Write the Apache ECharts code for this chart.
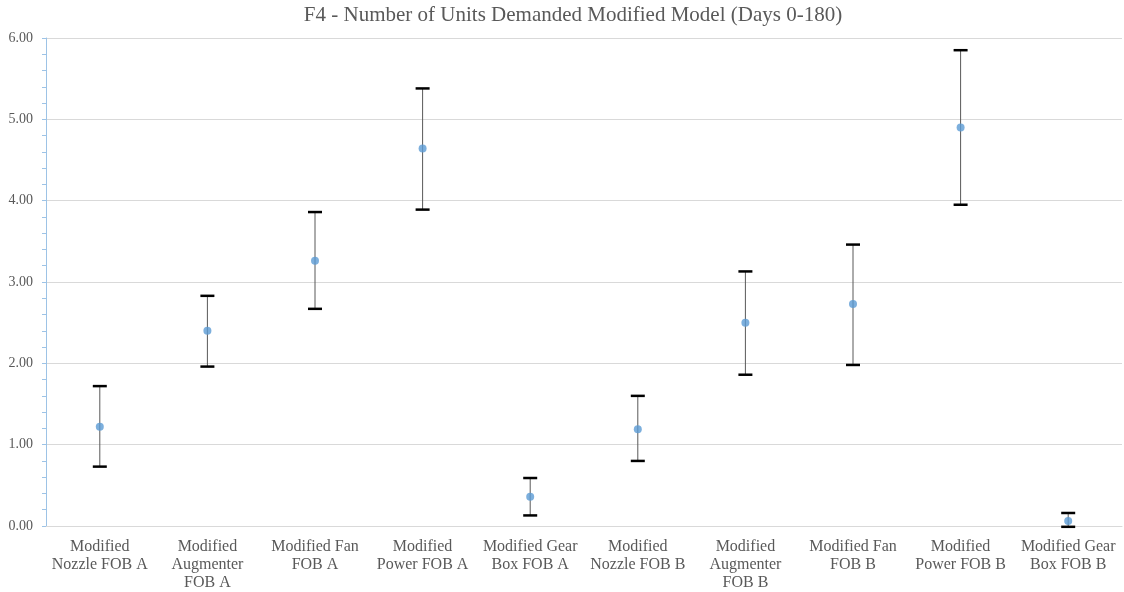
<!DOCTYPE html>
<html>
<head>
<meta charset="utf-8">
<script src="https://cdn.jsdelivr.net/npm/echarts@6/dist/echarts.min.js"></script>
<style>html,body{margin:0;padding:0;background:#fff}#c{width:1124px;height:592px}</style>
</head>
<body>
<div id="c"></div>
<script>
const categories = [
  "Modified\nNozzle FOB A", "Modified\nAugmenter\nFOB A", "Modified Fan\nFOB A",
  "Modified\nPower FOB A", "Modified Gear\nBox FOB A", "Modified\nNozzle FOB B",
  "Modified\nAugmenter\nFOB B", "Modified Fan\nFOB B", "Modified\nPower FOB B",
  "Modified Gear\nBox FOB B"
];
const meanValues  = [1.22, 2.40, 3.26, 4.64, 0.36, 1.19, 2.50, 2.73, 4.90, 0.06];
const upperValues = [1.72, 2.83, 3.86, 5.38, 0.59, 1.60, 3.13, 3.46, 5.85, 0.16];
const lowerValues = [0.73, 1.96, 2.67, 3.89, 0.13, 0.80, 1.86, 1.98, 3.95, -0.01];
const yTicks = [0, 1, 2, 3, 4, 5, 6];

const chart = echarts.init(document.getElementById('c'));
const textColor = '#595959';
chart.setOption({
  animation: false,
  title: {
    text: 'F4 - Number of Units Demanded Modified Model (Days 0-180)',
    left: 568, top: 0, textAlign: 'center',
    textStyle: { fontFamily: 'Liberation Serif', fontSize: 21, fontWeight: 'normal', color: textColor }
  },
  grid: { left: 46, right: 2, top: 38, bottom: 66 },
  xAxis: {
    type: 'category', data: categories,
    axisLine: { show: true, lineStyle: { color: '#d9d9d9' } },
    axisTick: { show: false },
    axisLabel: { interval: 0, fontFamily: 'Liberation Serif', fontSize: 16, color: textColor, lineHeight: 18, margin: 12 }
  },
  yAxis: {
    type: 'value', min: yTicks[0], max: yTicks[yTicks.length - 1], interval: 1,
    axisLine: { show: true, lineStyle: { color: '#9dc3e6' } },
    axisTick: { show: true, length: 4, lineStyle: { color: '#9dc3e6' } },
    minorTick: { show: true, splitNumber: 5, length: 4, lineStyle: { color: '#9dc3e6' } },
    splitLine: { show: true, lineStyle: { color: '#d9d9d9' } },
    axisLabel: { fontFamily: 'Liberation Serif', fontSize: 14, color: textColor, margin: 13,
      formatter: v => v.toFixed(2) }
  },
  series: [
    {
      type: 'custom',
      data: categories.map((c, i) => [i, lowerValues[i], upperValues[i]]),
      clip: false,
      renderItem: function (params, api) {
        const x = api.value(0);
        const lo = api.coord([x, api.value(1)]);
        const hi = api.coord([x, api.value(2)]);
        const hw = 7;
        return {
          type: 'group',
          children: [
            { type: 'line', shape: { x1: lo[0], y1: lo[1], x2: hi[0], y2: hi[1] },
              style: { stroke: '#595959', lineWidth: 1 } },
            { type: 'line', shape: { x1: hi[0] - hw, y1: hi[1], x2: hi[0] + hw, y2: hi[1] },
              style: { stroke: '#000', lineWidth: 2.5 } },
            { type: 'line', shape: { x1: lo[0] - hw, y1: lo[1], x2: lo[0] + hw, y2: lo[1] },
              style: { stroke: '#000', lineWidth: 2.5 } }
          ]
        };
      },
      z: 2
    },
    {
      type: 'scatter',
      data: meanValues,
      symbol: 'circle', symbolSize: 8,
      itemStyle: { color: '#5b9bd5' },
      z: 3
    }
  ]
});
</script>
</body>
</html>
